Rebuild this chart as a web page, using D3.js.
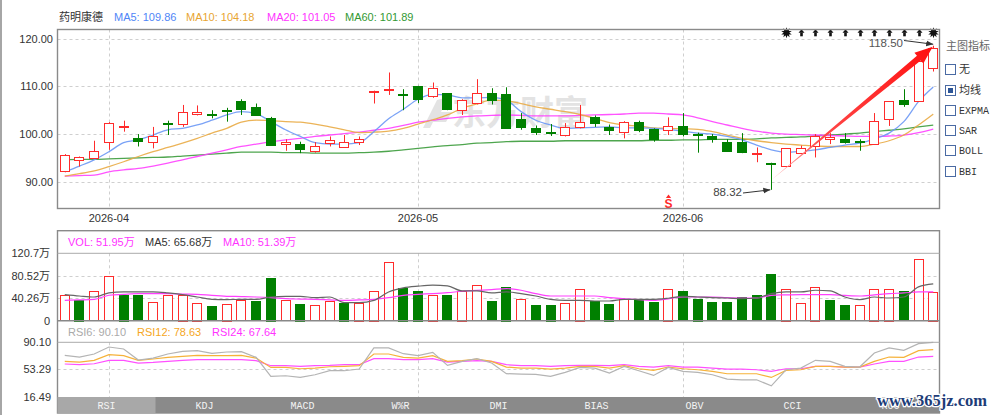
<!DOCTYPE html>
<html>
<head>
<meta charset="utf-8">
<script src="https://cdn.jsdelivr.net/npm/d3@7"></script>
<style>
  body { margin: 0; background: #fff; }
  svg { display: block; }
</style>
</head>
<body>
<div id="chart"></div>
<script>
// trading days shown (MM-DD, year 2026)
const dates = ["03-27","03-30","03-31",
  "04-01","04-02","04-03","04-07","04-08","04-09","04-10","04-13","04-14","04-15","04-16","04-17","04-20","04-21","04-22","04-23","04-24","04-27","04-28","04-29","04-30",
  "05-06","05-07","05-08","05-11","05-12","05-13","05-14","05-15","05-18","05-19","05-20","05-21","05-22","05-25","05-26","05-27","05-28","05-29",
  "06-01","06-02","06-03","06-04","06-05","06-08","06-09","06-10","06-11","06-12","06-15","06-16","06-17","06-18","06-22","06-23","06-24","06-25"];

const open  = [92.3,94.4,95.1,98.4,101.4,99.1,98.4,102.4,102.1,104.2,104.3,105.1,106.9,105.6,103.4,97.9,97.9,96.5,98.1,97.4,
               98.3,108.9,109.3,108.4,110.1,108.0,108.5,105.0,106.4,108.7,108.4,103.1,101.3,100.5,99.8,101.5,103.6,101.5,100.4,102.5,
               101.1,100.9,101.7,100.1,99.5,98.3,98.4,95.9,94.0,93.3,96.0,97.5,98.8,98.9,98.5,97.9,103.1,107.1,106.9,113.9];
const high  = [95.8,95.3,98.6,102.5,102.8,100.0,101.5,102.8,106.1,106.0,105.0,105.5,107.3,106.4,103.6,98.9,98.4,98.3,99.5,99.8,
               99.5,109.1,112.9,109.4,110.1,110.8,108.6,107.3,111.5,109.6,109.8,104.4,101.8,102.1,102.3,106.1,103.9,102.0,102.7,102.8,
               101.2,103.5,104.4,100.3,100.0,98.9,100.2,97.2,94.0,97.0,97.6,100.0,100.2,100.2,98.9,104.4,106.9,109.4,115.3,118.5];
const low   = [92.0,93.2,95.0,96.7,100.5,97.4,97.0,99.8,101.5,103.9,103.3,102.6,104.0,103.8,97.5,96.5,96.0,96.1,97.4,97.1,
               97.7,106.4,108.2,105.0,106.5,107.6,105.0,104.0,106.2,106.2,101.2,100.9,99.8,99.6,99.5,101.2,101.5,99.8,99.1,100.4,
               98.4,99.8,99.5,96.1,98.2,96.5,96.0,94.1,88.32,93.2,95.9,95.1,97.9,98.0,96.5,97.8,101.7,105.7,106.8,113.1];
const close = [95.6,95.1,96.5,102.3,101.7,98.4,99.6,102.2,104.6,104.7,104.1,104.9,105.3,104.0,97.8,98.4,96.9,97.6,98.7,98.4,
               99.0,109.0,109.5,108.2,107.4,109.6,105.2,107.1,108.5,107.3,101.3,101.4,100.4,100.3,101.5,102.5,102.3,100.9,102.5,100.9,
               99.1,101.7,100.0,99.9,98.8,96.5,96.3,96.1,93.8,97.0,97.0,99.6,99.3,98.3,98.35,102.7,106.9,106.3,115.3,118.0];

const ma5  = [92.1,93.3,94.6,96.3,98.2,98.8,99.8,100.9,101.2,101.9,102.9,104.0,104.7,104.3,102.6,100.9,99.5,98.2,97.9,97.9,
              98.2,100.5,103.2,105.2,107.3,108.3,108.2,107.6,107.6,107.7,107.1,104.7,102.9,101.9,101.2,101.3,101.4,101.5,101.3,101.3,
              101.2,101.0,100.6,100.2,100.0,99.5,98.8,97.7,96.7,96.2,96.4,96.7,97.2,97.7,98.1,99.0,100.2,102.6,106.8,109.86];
const ma10 = [91.2,91.7,92.3,93.2,94.2,95.3,96.3,97.2,98.1,99.1,100.2,101.2,102.5,102.9,102.8,102.6,102.5,102.1,101.5,100.9,
              100.3,100.4,100.6,101.2,102.1,103.0,104.0,105.4,106.3,107.1,107.0,106.4,105.7,105.2,104.7,104.1,103.3,102.4,101.9,101.7,
              101.3,101.2,101.1,101.0,100.5,99.8,99.1,98.6,98.2,97.9,97.7,97.5,97.4,97.4,97.4,97.9,98.6,99.8,101.9,104.18];
const ma20 = [91.2,91.3,91.4,92.1,92.5,92.8,93.3,93.9,94.6,95.3,96.0,96.7,97.4,97.9,98.4,98.8,99.1,99.5,99.8,100.1,
              100.4,100.8,101.2,101.8,102.5,102.9,103.3,103.6,103.8,103.9,104.0,103.9,103.8,103.8,103.8,103.9,104.0,104.1,104.2,104.4,
              104.4,104.2,104.0,103.4,102.6,101.9,101.2,100.6,100.2,100.0,99.9,99.8,99.7,99.6,99.5,99.5,99.6,99.8,100.3,101.05];
const ma60 = [94.6,94.7,94.7,94.8,94.9,95.0,95.1,95.2,95.4,95.6,95.8,96.0,96.2,96.2,96.2,96.1,96.1,96.0,96.0,96.0,
              96.1,96.2,96.4,96.7,97.0,97.3,97.6,97.8,98.1,98.2,98.4,98.5,98.5,98.5,98.6,98.6,98.6,98.6,98.6,98.6,
              98.7,98.7,98.8,98.8,98.9,98.9,98.9,99.0,99.2,99.3,99.4,99.6,99.8,100.0,100.2,100.5,100.8,101.1,101.5,101.89];

// volume in 万
const volume = [45.3,37.4,52.5,79.7,46.5,45.3,33.2,45.3,46.5,32.0,25.3,30.2,36.2,34.4,77.2,36.2,30.2,27.2,35.0,32.0,
                32.0,53.1,104.4,59.1,53.1,46.5,45.3,53.1,63.4,35.0,60.4,38.0,27.2,28.4,31.4,57.3,34.4,30.2,38.0,38.0,
                33.2,57.3,52.5,39.2,33.2,33.2,42.2,45.3,82.7,57.3,31.4,60.4,36.2,27.2,27.2,57.3,57.3,52.5,109.8,51.95];
const volMa5  = [46.5,44.0,42.2,49.5,51.3,51.3,51.3,49.5,46.5,42.2,38.0,37.4,38.0,38.0,42.2,43.5,43.5,41.0,42.2,32.0,
                 32.0,36.2,51.3,58.5,61.6,63.4,62.2,53.1,53.1,49.5,51.3,48.3,44.0,38.0,36.2,36.2,35.0,35.0,38.0,38.0,
                 38.0,40.0,43.5,42.2,41.0,40.4,39.2,40.4,48.3,51.3,51.3,54.3,53.1,42.2,37.4,42.2,40.4,42.2,60.4,65.68];
const volMa10 = [36.2,37.0,38.0,45.3,47.0,48.3,48.3,48.3,47.5,47.0,45.0,43.5,43.0,42.2,41.0,39.2,38.5,38.0,37.0,36.2,
                 37.0,38.0,41.0,45.3,47.0,48.3,50.0,52.5,54.0,55.5,57.3,54.3,48.3,44.0,44.0,44.0,44.0,41.0,39.2,37.5,
                 36.2,39.0,42.2,42.2,42.2,41.0,40.4,40.4,45.3,46.0,46.5,46.5,46.5,45.0,44.0,46.0,48.3,49.5,51.3,51.39];

const rsi6  = [72.4,70.1,74.2,83.7,81.0,66.0,68.7,74.2,77.8,78.7,75.1,76.9,77.4,69.7,43.8,44.7,42.4,46.0,51.5,51.5,
               53.8,82.4,82.4,74.6,71.9,76.5,58.7,64.2,67.8,62.0,47.5,46.9,46.5,43.8,49.2,56.0,55.1,48.3,57.4,51.5,
               45.1,56.0,50.6,49.2,46.0,40.1,39.2,39.2,31.0,52.8,55.1,65.6,64.2,57.4,56.5,75.6,82.4,79.2,88.3,90.1];
const rsi12 = [64.2,63.3,65.6,73.3,71.9,65.6,67.4,69.7,71.0,72.4,72.0,72.0,72.4,68.7,56.0,56.0,54.2,55.1,56.9,57.4,
               58.3,74.2,74.2,69.7,68.7,71.9,64.2,65.1,67.4,64.2,56.5,55.1,55.1,53.8,55.1,57.4,57.4,55.1,58.3,54.2,
               51.9,56.5,54.2,52.8,50.6,47.4,47.4,47.4,42.4,51.9,52.8,57.4,57.4,56.5,56.5,64.2,70.1,69.7,78.7,80.1];
const rsi24 = [60.6,59.7,61.0,65.6,65.6,61.9,62.8,64.2,65.6,66.5,66.5,66.5,66.5,65.1,58.3,58.3,57.4,58.3,58.7,59.7,
               59.7,67.8,67.8,66.5,66.5,67.8,63.3,64.2,65.1,64.2,59.7,58.3,58.3,57.4,58.3,58.7,58.7,58.3,59.7,57.4,
               56.5,58.3,56.5,56.5,55.1,53.8,53.8,52.8,50.6,54.2,54.2,57.4,57.4,56.5,56.5,60.6,64.2,64.2,70.1,71.0];

const priceTicks = [90, 100, 110, 120];
const volTicks = [0, 40.26, 80.52, 120.7];
const volTickLabels = ["0", "40.26万", "80.52万", "120.7万"];
const rsiTicks = [16.49, 53.29, 90.10];

const signalDays = [49, 50, 51, 52, 53, 54, 55, 56, 57, 58, 59];
const starDays = [49, 59];
const sellDay = 41;

const tabs = ["RSI", "KDJ", "MACD", "W%R", "DMI", "BIAS", "OBV", "CCI", "ROC"];
const indicators = ["无", "均线", "EXPMA", "SAR", "BOLL", "BBI"];

const RED = "#ff2b2b", GREEN = "#008000";
const C_MA5 = "#6b98f5", C_MA10 = "#e9ab45", C_MA20 = "#ff40ff", C_MA60 = "#3b9b3b";

const width = 1000, height = 415;
const left = 57.5, right = 939.5;

const svg = d3.select("#chart").append("svg")
    .attr("width", width)
    .attr("height", height)
    .style("font-family", "'Liberation Sans', Arial, sans-serif");

const defs = svg.append("defs");

const x = d3.scaleBand()
    .domain(d3.range(dates.length))
    .range([57.4, 940.6])
    .paddingInner(0.32)
    .paddingOuter(0.16);
const cx = i => x(i) + x.bandwidth() / 2;
const bw = Math.round(x.bandwidth());

// month starts for the date ticks
const monthStarts = d3.range(1, dates.length).filter(i => dates[i].slice(0, 2) !== dates[i - 1].slice(0, 2));

const y = d3.scaleLinear().domain([90, 120]).range([181.8, 38.6]);
const vy = d3.scaleLinear().domain([0, 120.7]).range([320.5, 253.3]);
const ry = d3.scaleLinear().domain([16.49, 90.10]).range([396.5, 342.3]);

// left edge bar
svg.append("rect").attr("x", 0).attr("y", 0).attr("width", 2).attr("height", height).attr("fill", "#a6a6a6");

// ---------- header ----------
const header = svg.append("g").style("font-size", "11px");
header.append("text").attr("x", 59).attr("y", 20.5).attr("fill", "#333")
    .style("font-family", "'Noto Sans CJK SC', sans-serif").text("药明康德");
[["MA5: 109.86", 114, "#4f86f7"], ["MA10: 104.18", 186, "#e8a532"],
 ["MA20: 101.05", 267, "#ff33ff"], ["MA60: 101.89", 345, "#339933"]].forEach(d => {
    header.append("text").attr("x", d[1]).attr("y", 20.5).attr("fill", d[2]).text(d[0]);
});

// ---------- main chart ----------
const grid = svg.append("g").attr("stroke", "#cfcfcf").attr("stroke-dasharray", "3,3");
grid.selectAll(".hp").data(priceTicks).join("line")
    .attr("x1", left).attr("x2", right)
    .attr("y1", d => Math.round(y(d)) + 0.5).attr("y2", d => Math.round(y(d)) + 0.5);
grid.selectAll(".vp").data(monthStarts).join("line")
    .attr("x1", d => Math.round(cx(d)) + 0.5).attr("x2", d => Math.round(cx(d)) + 0.5)
    .attr("y1", 29.5).attr("y2", 208.5);

// watermark
const wm = svg.append("g").attr("fill", "#e3e3e3");
wm.append("path").attr("d", "M423,128 L437,100 L449,97 L441,112 L452,112 L446,122 L433,122 L430,128 Z");
wm.append("text").attr("x", 452).attr("y", 125)
    .style("font-family", "'Noto Sans CJK SC', sans-serif").style("font-weight", "bold")
    .style("font-size", "34px").text("东方财富");

// moving averages
const maLine = d3.line().x((d, i) => cx(i)).y(d => y(d)).curve(d3.curveMonotoneX);
[[ma60, C_MA60], [ma20, C_MA20], [ma10, C_MA10], [ma5, C_MA5]].forEach(([s, c]) => {
    svg.append("path").attr("d", maLine(s)).attr("fill", "none")
        .attr("stroke", c).attr("stroke-width", 1.3).attr("stroke-opacity", 0.9);
});

// candles
const candles = svg.append("g").selectAll("g").data(d3.range(dates.length)).join("g");
const isUp = i => close[i] >= open[i];
candles.append("line")
    .attr("x1", i => Math.round(cx(i)) + 0.5).attr("x2", i => Math.round(cx(i)) + 0.5)
    .attr("y1", i => y(high[i])).attr("y2", i => y(low[i]))
    .attr("stroke", i => isUp(i) ? RED : GREEN);
candles.append("rect")
    .attr("x", i => Math.round(cx(i)) - (bw - 1) / 2)
    .attr("width", bw - 1)
    .attr("y", i => Math.round(y(Math.max(open[i], close[i]))) + 0.5)
    .attr("height", i => Math.max(1, Math.round(Math.abs(y(open[i]) - y(close[i])))))
    .attr("fill", i => isUp(i) ? "#fff" : GREEN)
    .attr("stroke", i => isUp(i) ? RED : GREEN);

// big red trend arrow
const a0 = [cx(48), y(90.4)], a1 = [cx(59) - 0.5, y(118.3)];
const dx = a1[0] - a0[0], dy = a1[1] - a0[1], len = Math.hypot(dx, dy);
const ux = dx / len, uy = dy / len, nx = -uy, ny = ux;
const headLen = 18, headW = 14, shaftW = 6;
const hb = [a1[0] - ux * headLen, a1[1] - uy * headLen];
const grad = defs.append("linearGradient").attr("id", "arrowGrad")
    .attr("gradientUnits", "userSpaceOnUse")
    .attr("x1", a0[0]).attr("y1", a0[1]).attr("x2", a1[0]).attr("y2", a1[1]);
grad.append("stop").attr("offset", "0%").attr("stop-color", "#ffc4c4");
grad.append("stop").attr("offset", "30%").attr("stop-color", "#ff4a4a");
grad.append("stop").attr("offset", "100%").attr("stop-color", "#ff1010");
svg.append("path").attr("fill", "url(#arrowGrad)")
    .attr("d", `M${a0[0]},${a0[1]} L${hb[0] + nx * shaftW / 2},${hb[1] + ny * shaftW / 2}
      L${hb[0] + nx * headW / 2},${hb[1] + ny * headW / 2} L${a1[0]},${a1[1]}
      L${hb[0] - nx * headW / 2},${hb[1] - ny * headW / 2} L${hb[0] - nx * shaftW / 2},${hb[1] - ny * shaftW / 2} Z`);

// high / low notes
defs.append("marker").attr("id", "tip").attr("viewBox", "0 0 10 10")
    .attr("refX", 10).attr("refY", 5).attr("markerWidth", 7).attr("markerHeight", 7)
    .attr("orient", "auto").append("path").attr("d", "M0,1 L10,5 L0,9 Z").attr("fill", "#333");
const lowIdx = d3.minIndex(low), highIdx = d3.maxIndex(high);
svg.append("text").attr("x", 742).attr("y", 196).attr("text-anchor", "end")
    .attr("fill", "#444").style("font-size", "11.5px").text(low[lowIdx].toFixed(2));
svg.append("line").attr("x1", 743).attr("y1", 193).attr("x2", cx(lowIdx) - 1).attr("y2", y(low[lowIdx]))
    .attr("stroke", "#333").attr("marker-end", "url(#tip)");
svg.append("text").attr("x", 903).attr("y", 47).attr("text-anchor", "end")
    .attr("fill", "#555").style("font-size", "11.5px").text(high[highIdx].toFixed(2));
svg.append("line").attr("x1", 904).attr("y1", 40.5).attr("x2", cx(highIdx)).attr("y2", y(high[highIdx]) - 1.5)
    .attr("stroke", "#333").attr("marker-end", "url(#tip)");

// buy signals along the top
const sig = svg.append("g").attr("fill", "#111");
signalDays.forEach(i => {
    const c = Math.round(cx(i)) + 0.5;
    if (starDays.includes(i)) {
        sig.append("path").attr("transform", `translate(${c},32.7)`).attr("d", d3.symbol(d3.symbolStar, 34)());
        sig.append("path").attr("transform", `translate(${c},32.7) rotate(36)`).attr("d", d3.symbol(d3.symbolStar, 34)());
        sig.append("circle").attr("cx", c).attr("cy", 32.7).attr("r", 2.4);
    } else {
        sig.append("path").attr("d", `M${c},29.2 L${c - 3},32.8 L${c + 3},32.8 Z`);
        sig.append("rect").attr("x", c - 1.3).attr("y", 32.5).attr("width", 2.6).attr("height", 3.8);
    }
});

// sell signal
const sc = Math.round(cx(sellDay)) + 0.5;
svg.append("path").attr("d", `M${sc},194.6 L${sc - 2.6},198 L${sc + 2.6},198 Z`).attr("fill", RED);
svg.append("text").attr("x", sc).attr("y", 207.5).attr("text-anchor", "middle")
    .attr("fill", RED).style("font-size", "12px").style("font-weight", "bold").text("S");

// main frame
svg.append("rect").attr("x", left).attr("y", 29.5).attr("width", right - left).attr("height", 179)
    .attr("fill", "none").attr("stroke", "#8a8a8a").attr("stroke-width", 1.4);

// y axis labels
const yAxis = svg.append("g").attr("transform", "translate(54,0)")
    .call(d3.axisLeft(y).tickValues(priceTicks).tickSize(0).tickPadding(1).tickFormat(d3.format(".2f")));
yAxis.select(".domain").remove();
yAxis.selectAll("text").attr("fill", "#333").style("font-size", "11px")
    .style("font-family", "'Liberation Sans', Arial, sans-serif");

// date axis
const xAxis = svg.append("g").attr("transform", "translate(0,208.5)")
    .call(d3.axisBottom(x).tickValues(monthStarts).tickSize(0).tickPadding(5.5)
        .tickFormat(i => "2026-" + dates[i].slice(0, 2)));
xAxis.select(".domain").remove();
xAxis.selectAll("text").attr("fill", "#333").style("font-size", "11px")
    .style("font-family", "'Liberation Sans', Arial, sans-serif");

// indicator list on the right
const leg = svg.append("g");
leg.append("text").attr("x", 946).attr("y", 50).attr("fill", "#666")
    .style("font-family", "'Noto Sans CJK SC', sans-serif").style("font-size", "11px").text("主图指标");
const rowY = d3.scalePoint().domain(indicators).range([69.3, 170.7]);
indicators.forEach((name, k) => {
    const cy = rowY(name);
    leg.append("rect").attr("x", 945.5).attr("y", Math.round(cy) - 4.5).attr("width", 10).attr("height", 10)
        .attr("fill", "#fff").attr("stroke", "#4a6aa3");
    if (k === 1) {
        leg.append("rect").attr("x", 948).attr("y", Math.round(cy) - 2).attr("width", 5).attr("height", 5)
            .attr("fill", "#2d5597");
    }
    leg.append("text").attr("x", 959).attr("y", cy + 4).attr("fill", "#333")
        .style("font-family", /[A-Z]/.test(name) ? "'Liberation Mono', monospace" : "'Noto Sans CJK SC', sans-serif")
        .style("font-size", /[A-Z]/.test(name) ? "10px" : "11px")
        .text(name);
});

// ---------- volume panel ----------
const vgrid = svg.append("g").attr("stroke", "#cfcfcf").attr("stroke-dasharray", "3,3");
vgrid.selectAll("line.h").data(volTicks.slice(1, 3)).join("line")
    .attr("x1", left).attr("x2", right)
    .attr("y1", d => Math.round(vy(d)) + 0.5).attr("y2", d => Math.round(vy(d)) + 0.5);
vgrid.selectAll("line.v").data(monthStarts).join("line")
    .attr("x1", d => Math.round(cx(d)) + 0.5).attr("x2", d => Math.round(cx(d)) + 0.5)
    .attr("y1", 253.3).attr("y2", 320.5);

const volUp = i => i === 0 || close[i] >= close[i - 1];
svg.append("g").selectAll("rect").data(d3.range(dates.length)).join("rect")
    .attr("x", i => Math.round(cx(i)) - (bw - 1) / 2)
    .attr("width", bw - 1)
    .attr("y", i => Math.round(vy(volume[i])) + 0.5)
    .attr("height", i => Math.round(vy(0) - vy(volume[i])))
    .attr("fill", i => volUp(i) ? "#fff" : GREEN)
    .attr("stroke", i => volUp(i) ? RED : GREEN);

const vLine = d3.line().x((d, i) => cx(i)).y(d => vy(d)).curve(d3.curveMonotoneX);
svg.append("path").attr("d", vLine(volMa10)).attr("fill", "none").attr("stroke", "#ff40ff").attr("stroke-width", 1.2);
svg.append("path").attr("d", vLine(volMa5)).attr("fill", "none").attr("stroke", "#666").attr("stroke-width", 1.2);

const vAxis = svg.append("g").attr("transform", "translate(51,0)")
    .call(d3.axisLeft(vy).tickValues(volTicks).tickSize(0).tickPadding(1)
        .tickFormat((d, k) => volTickLabels[k]));
vAxis.select(".domain").remove();
vAxis.selectAll("text").attr("fill", "#333").style("font-size", "11px")
    .style("font-family", "'Liberation Sans', 'Noto Sans CJK SC', sans-serif");

const vh = svg.append("g").style("font-size", "11px")
    .style("font-family", "'Liberation Sans', 'Noto Sans CJK SC', sans-serif");
[["VOL: 51.95万", 68, "#ff33ff"], ["MA5: 65.68万", 145, "#333"], ["MA10: 51.39万", 223, "#ff33ff"]].forEach(d => {
    vh.append("text").attr("x", d[1]).attr("y", 246).attr("fill", d[2]).text(d[0]);
});

// ---------- RSI panel ----------
const rgrid = svg.append("g").attr("stroke", "#cfcfcf").attr("stroke-dasharray", "3,3");
rgrid.append("line").attr("x1", left).attr("x2", right)
    .attr("y1", Math.round(ry(rsiTicks[1])) + 0.5).attr("y2", Math.round(ry(rsiTicks[1])) + 0.5);
rgrid.selectAll("line.v").data(monthStarts).join("line")
    .attr("x1", d => Math.round(cx(d)) + 0.5).attr("x2", d => Math.round(cx(d)) + 0.5)
    .attr("y1", 342.3).attr("y2", 397);

const rLine = d3.line().x((d, i) => cx(i)).y(d => ry(d));
[[rsi24, "#ff50ff"], [rsi12, "#f6b23a"], [rsi6, "#b4b4b4"]].forEach(([s, c]) => {
    svg.append("path").attr("d", rLine(s)).attr("fill", "none").attr("stroke", c).attr("stroke-width", 1.2);
});

const rAxis = svg.append("g").attr("transform", "translate(52,0)")
    .call(d3.axisLeft(ry).tickValues(rsiTicks).tickSize(0).tickPadding(1).tickFormat(d3.format(".2f")));
rAxis.select(".domain").remove();
rAxis.selectAll("text").attr("fill", "#333").style("font-size", "11px")
    .style("font-family", "'Liberation Sans', Arial, sans-serif");

const rh = svg.append("g").style("font-size", "11px");
[["RSI6: 90.10", 68, "#aaa"], ["RSI12: 78.63", 137, "#f5a623"], ["RSI24: 67.64", 212, "#ff33ff"]].forEach(d => {
    rh.append("text").attr("x", d[1]).attr("y", 336).attr("fill", d[2]).text(d[0]);
});

// frame lines of the lower panels
const fr = svg.append("g").attr("fill", "none");
fr.append("rect").attr("x", left).attr("y", 230.7).attr("width", right - left).attr("height", 182.3)
    .attr("stroke", "#8a8a8a").attr("stroke-width", 1.4);
fr.append("line").attr("x1", left).attr("x2", right).attr("y1", 253.3).attr("y2", 253.3).attr("stroke", "#aaa");
fr.append("line").attr("x1", left).attr("x2", right).attr("y1", 320.8).attr("y2", 320.8).attr("stroke", "#888").attr("stroke-width", 1.4);
fr.append("line").attr("x1", left).attr("x2", right).attr("y1", 342.3).attr("y2", 342.3).attr("stroke", "#aaa");

// ---------- indicator tabs ----------
const tx = d3.scaleBand().domain(tabs).range([left, right]);
const tabG = svg.append("g");
tabG.append("rect").attr("x", left).attr("y", 397).attr("width", right - left).attr("height", 16).attr("fill", "#8a8a8a");
tabG.append("rect").attr("x", tx("RSI")).attr("y", 397).attr("width", tx.bandwidth()).attr("height", 16).attr("fill", "#a8a8a8");
tabG.selectAll("text").data(tabs).join("text")
    .attr("x", d => tx(d) + tx.bandwidth() / 2).attr("y", 409)
    .attr("text-anchor", "middle").attr("fill", "#f4f4f4")
    .style("font-family", "'Liberation Mono', monospace").style("font-size", "10px")
    .text(d => d);

// site stamp (sits over the last tab, as in the source image)
svg.append("text").attr("x", 877).attr("y", 405.5)
    .attr("fill", "#1d3c78").attr("stroke", "#fff").attr("stroke-width", 2.5)
    .attr("paint-order", "stroke")
    .style("font-family", "'Liberation Serif', serif").style("font-weight", "bold").style("font-size", "16.5px")
    .text("www.365jz.com");
</script>
</body>
</html>
